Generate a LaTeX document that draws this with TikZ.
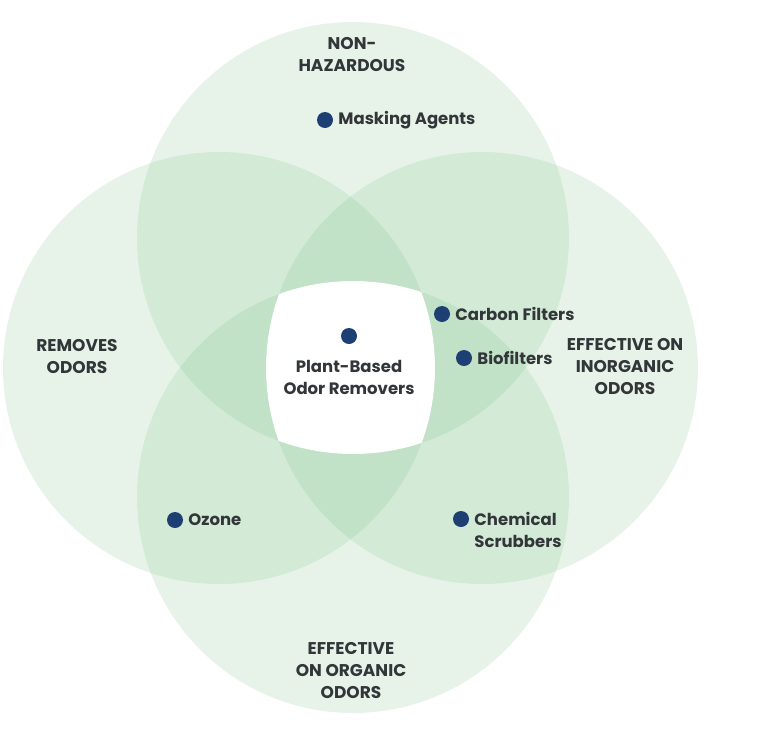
\documentclass[tikz,border=0pt]{standalone}
\usepackage{fontspec}
\setmainfont{Poppins}
\definecolor{vgreen}{RGB}{120,190,132}
\definecolor{dotblue}{RGB}{30,63,116}
\definecolor{txt}{RGB}{50,54,57}
\tikzset{
  vcircle/.style={fill=vgreen, fill opacity=0.18, draw=none},
  cat/.style={font=\fontsize{17}{22}\selectfont\bfseries, text=txt, align=center, inner sep=0pt},
  item/.style={font=\fontsize{16.5}{22}\selectfont\bfseries, text=txt, anchor=west, align=left, inner sep=0pt},
  bullet/.style={circle, fill=dotblue, minimum size=16pt, inner sep=0pt, draw=none},
}
\begin{document}
\begin{tikzpicture}[x=1pt,y=-1pt]
\useasboundingbox (0,0) rectangle (782,742);
\coordinate (T) at (353,238);
\coordinate (B) at (353,497);
\coordinate (L) at (219,368);
\coordinate (R) at (482,368);
\fill[vcircle] (T) circle (216pt);
\fill[vcircle] (B) circle (216pt);
\fill[vcircle] (L) circle (216pt);
\fill[vcircle] (R) circle (216pt);
\begin{scope}
  \clip (T) circle (216pt);
  \clip (B) circle (216pt);
  \clip (L) circle (216pt);
  \fill[white] (R) circle (216pt);
\end{scope}
% category labels
\node[cat] (nonhaz) at (352,55) {NON-\\HAZARDOUS};
\node[cat] (removes) at (77,357) {REMOVES\\ODORS};
\node[cat] (inorg) at (625,367) {EFFECTIVE ON\\INORGANIC\\ODORS};
\node[cat] (org) at (351,671) {EFFECTIVE\\ON ORGANIC\\ODORS};
% items
\node[bullet] (d1) at (325,120) {};
\node[item] (masking) at ([xshift=5pt]d1.east) {Masking Agents};
\node[bullet] (d2) at (442,314) {};
\node[item] (carbon) at ([xshift=5pt]d2.east) {Carbon Filters};
\node[bullet] (d3) at (464,358) {};
\node[item] (bio) at ([xshift=5pt]d3.east) {Biofilters};
\node[bullet] (d4) at (175,520) {};
\node[item] (ozone) at ([xshift=5pt]d4.east) {Ozone};
\node[bullet] (d5) at (461,519) {};
\node[item] (chem) at ([xshift=5pt,yshift=-11pt]d5.east) {Chemical\\Scrubbers};
\node[bullet] (d6) at (349,336) {};
\node[item, anchor=center, align=center] (plant) at (349,377) {Plant-Based\\Odor Removers};
\end{tikzpicture}
\end{document}
